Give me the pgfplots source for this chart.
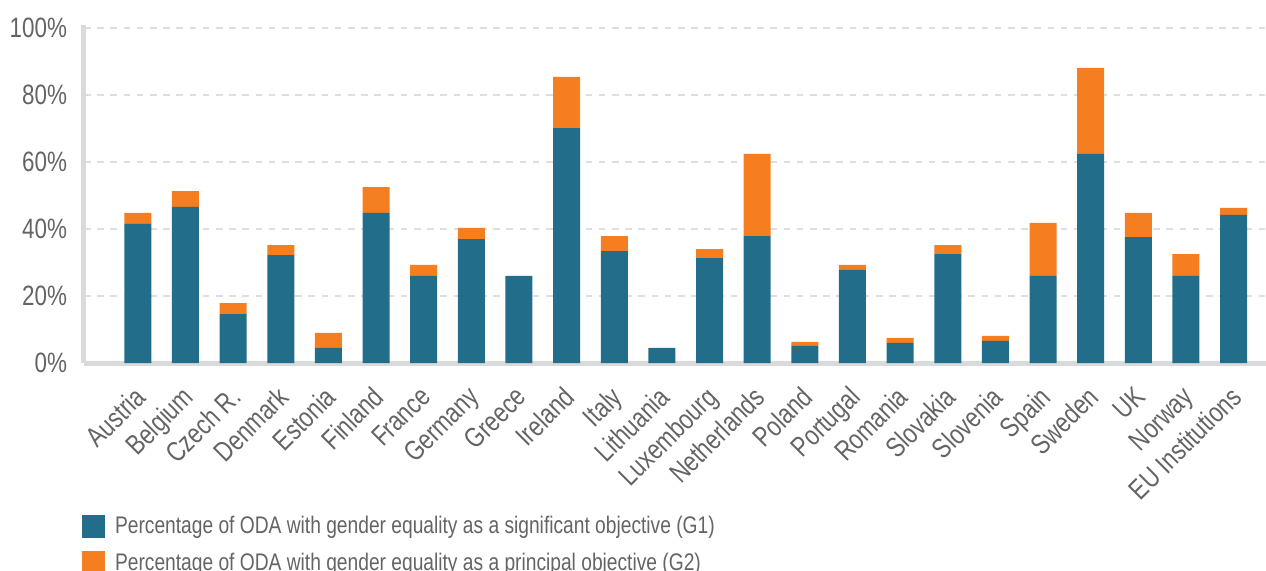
\documentclass[border=0pt]{standalone}
\usepackage{fontspec}
\setmainfont{Liberation Sans}[FakeStretch=0.8]
\usepackage{pgfplots}
\pgfplotsset{compat=1.18}
\usepackage{pgfplotstable}
\definecolor{g1}{HTML}{226E8A}
\definecolor{g2}{HTML}{F47E20}
\definecolor{txt}{HTML}{646464}
\definecolor{axl}{HTML}{D9DADB}
\definecolor{grd}{HTML}{DEDEDE}

\pgfplotstableread{
x blue orange
0 41.5 3.3
1 46.6 4.7
2 14.6 3.3
3 32.2 3.0
4 4.5 4.5
5 44.8 7.7
6 26.0 3.3
7 37.0 3.3
8 26.0 0
9 70.1 15.3
10 33.4 4.5
11 4.5 0
12 31.3 2.7
13 37.9 24.5
14 5.1 1.2
15 27.8 1.5
16 6.0 1.5
17 32.5 2.7
18 6.6 1.5
19 26.0 15.8
20 62.4 25.7
21 37.6 7.2
22 26.0 6.5
23 44.2 2.1
}\data

\begin{document}
\begin{tikzpicture}
\begin{axis}[
  scale only axis, width=591pt, height=169.2pt,
  xmin=-1.13, xmax=23.68, ymin=0, ymax=101,
  ybar stacked, bar width=0.567,
  axis x line*=bottom, axis y line*=left,
  axis line style={draw=axl, line width=2.5pt, -},
  xtick={0,...,23},
  xticklabels={Austria,Belgium,Czech R.,Denmark,Estonia,Finland,France,Germany,Greece,Ireland,Italy,Lithuania,Luxembourg,Netherlands,Poland,Portugal,Romania,Slovakia,Slovenia,Spain,Sweden,UK,Norway,EU Institutions},
  xticklabel style={xshift=-2.5pt, yshift=-6pt, rotate=45, anchor=north east, font=\fontsize{14}{16}\selectfont, text=txt},
  ytick={0,20,40,60,80,100},
  yticklabels={0\%,20\%,40\%,60\%,80\%,100\%},
  yticklabel style={font=\fontsize{14}{16}\selectfont, text=txt, xshift=-5pt},
  major tick length=0pt,
  ymajorgrids,
  major grid style={draw=grd, line width=1pt, dash pattern=on 3.3pt off 3.3pt},
  legend style={at={(axis description cs:-0.002,-0.44)}, anchor=north west, draw=none, fill=none,
    inner sep=0pt, row sep=4pt, font=\fontsize{12}{14}\selectfont, text=txt,
    /tikz/every odd column/.append style={column sep=3pt}},
  legend cell align=left,
]
\addplot[fill=g1, draw=none, legend image code/.code={\fill[g1] (0pt,-5.75pt) rectangle (11.5pt,5.75pt);}] table[x=x, y=blue] {\data};
\addplot[fill=g2, draw=none, legend image code/.code={\fill[g2] (0pt,-5.75pt) rectangle (11.5pt,5.75pt);}] table[x=x, y=orange] {\data};
\legend{Percentage of ODA with gender equality as a significant objective (G1),Percentage of ODA with gender equality as a principal objective (G2)}
\end{axis}
\pgfresetboundingbox
\useasboundingbox ([xshift=-42pt,yshift=-103.5pt]current axis.south west) rectangle ([xshift=591pt,yshift=181.5pt]current axis.south west);
\end{tikzpicture}
\end{document}
